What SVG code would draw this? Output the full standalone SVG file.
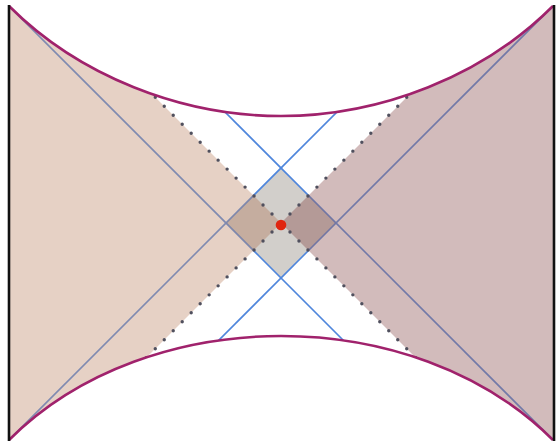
<svg xmlns="http://www.w3.org/2000/svg" width="557" height="446" viewBox="0 0 557 446">
  <style>
    .blue { stroke: #4f86dc; stroke-width: 1.6; fill: none; }
    .dots { stroke: #50505e; stroke-width: 3.4; stroke-linecap: round; stroke-dasharray: 0 12.7; fill: none; }
    .sing { stroke: #a0226c; stroke-width: 2.6; fill: none; }
    .edge { stroke: #111; stroke-width: 2.6; }
    .shade { fill: rgb(110,70,55); fill-opacity: 0.07; }
  </style>
  <defs>
    <clipPath id="inside">
      <path d="M9,6 C79,76 181,116 281,116 C381,116 483,76 553,6 L553,440 C483,370 381,336 281,336 C181,336 79,370 9,440 Z"/>
    </clipPath>
  </defs>
  <rect width="557" height="446" fill="#fff"/>
  <g clip-path="url(#inside)">
    <g id="diamond">
      <polygon points="226,223 281,168 336,223 281,278" fill="#d2cfcb"/>
    </g>
    <g id="connectors">
      <line class="blue" x1="9" y1="6" x2="420" y2="417"/>
      <line class="blue" x1="553" y1="6" x2="142" y2="417"/>
      <line class="blue" x1="9" y1="440" x2="420" y2="29"/>
      <line class="blue" x1="553" y1="440" x2="142" y2="29"/>
    </g>
    <g id="left-region">
      <polygon points="281,223 -19,-77 -19,523" fill="rgb(196,146,116)" fill-opacity="0.42"/>
      <polygon class="shade" points="226,223 253.5,195.5 281,223 253.5,250.5"/>
    </g>
    <g id="right-region">
      <polygon points="281,223 581,-77 581,523" fill="rgb(158,106,106)" fill-opacity="0.46"/>
      <polygon class="shade" points="281,223 308.5,195.5 336,223 308.5,250.5"/>
    </g>
    <g id="horizons">
      <line class="dots" x1="281" y1="223" x2="131" y2="73"/>
      <line class="dots" x1="281" y1="223" x2="431" y2="73"/>
      <line class="dots" x1="281" y1="223" x2="131" y2="373"/>
      <line class="dots" x1="281" y1="223" x2="431" y2="373"/>
    </g>
  </g>
  <g id="singularities">
    <path class="sing" d="M9,6 C79,76 181,116 281,116 C381,116 483,76 553,6"/>
    <path class="sing" d="M9,440 C79,370 181,336 281,336 C381,336 483,370 553,440"/>
  </g>
  <g id="boundaries">
    <line class="edge" x1="9" y1="5" x2="9" y2="441"/>
    <line class="edge" x1="554" y1="5" x2="554" y2="441"/>
  </g>
  <g id="point">
    <circle cx="281" cy="225" r="5.3" fill="#e0250f"/>
  </g>
</svg>
